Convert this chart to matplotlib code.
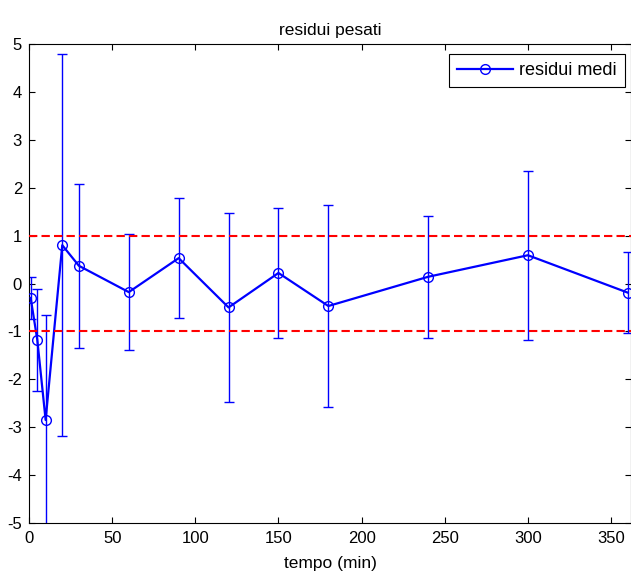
import matplotlib
matplotlib.use("Agg")
import matplotlib.pyplot as plt
import numpy as np

# Data
tempo = [1, 5, 10, 20, 30, 60, 90, 120, 150, 180, 240, 300, 360]
residui = [-0.30, -1.18, -2.85, 0.80, 0.37, -0.18, 0.53, -0.50, 0.22, -0.47, 0.14, 0.59, -0.19]
errori = [0.44, 1.06, 2.19, 3.99, 1.71, 1.21, 1.26, 1.98, 1.35, 2.11, 1.27, 1.76, 0.85]
soglie = [1, -1]
xticks = [0, 50, 100, 150, 200, 250, 300, 350]
yticks = [-5, -4, -3, -2, -1, 0, 1, 2, 3, 4, 5]

plt.rcParams['font.family'] = ['Liberation Sans', 'DejaVu Sans']
plt.rcParams['axes.unicode_minus'] = False

fig = plt.figure(figsize=(6.31, 5.71), dpi=100)
ax = fig.add_axes([29/631, (571-523)/571, 1 - 29/631, (523-44)/571])

ax.errorbar(tempo, residui, yerr=errori, fmt='none', ecolor='#0000ff',
            elinewidth=1.0, capsize=3.6, capthick=1.0, zorder=2)
ax.plot(tempo, residui, color='#0000ff', linewidth=1.6, marker='o',
        markersize=7, markerfacecolor='none', markeredgecolor='#0000ff',
        markeredgewidth=1.0, label='residui medi', zorder=3)
for s in soglie:
    ax.axhline(s, color='#ff0000', linestyle=(0, (4, 2)), linewidth=1.5, zorder=4)

ax.set_xlim(0, 362)
ax.set_ylim(-5, 5)
ax.set_xticks(xticks)
ax.set_yticks(yticks)
ax.tick_params(direction='in', top=True, right=True, length=4, width=0.8,
               labelsize=12, colors='black')
ax.tick_params(axis='x', pad=6)
ax.tick_params(axis='y', pad=5)
for sp in ax.spines.values():
    sp.set_linewidth(0.8)

ax.set_title('residui pesati', fontsize=12.5, pad=6.5)
ax.set_xlabel('tempo (min)', fontsize=12.5, labelpad=7)

leg = ax.legend(loc='upper right', fontsize=13, frameon=True, fancybox=False,
                edgecolor='black', framealpha=1, borderpad=0.45,
                handlelength=3.1, handletextpad=0.35, borderaxespad=0,
                bbox_to_anchor=(0.990, 0.979))
leg.get_frame().set_linewidth(0.8)

fig.savefig('out.png', dpi=100)
